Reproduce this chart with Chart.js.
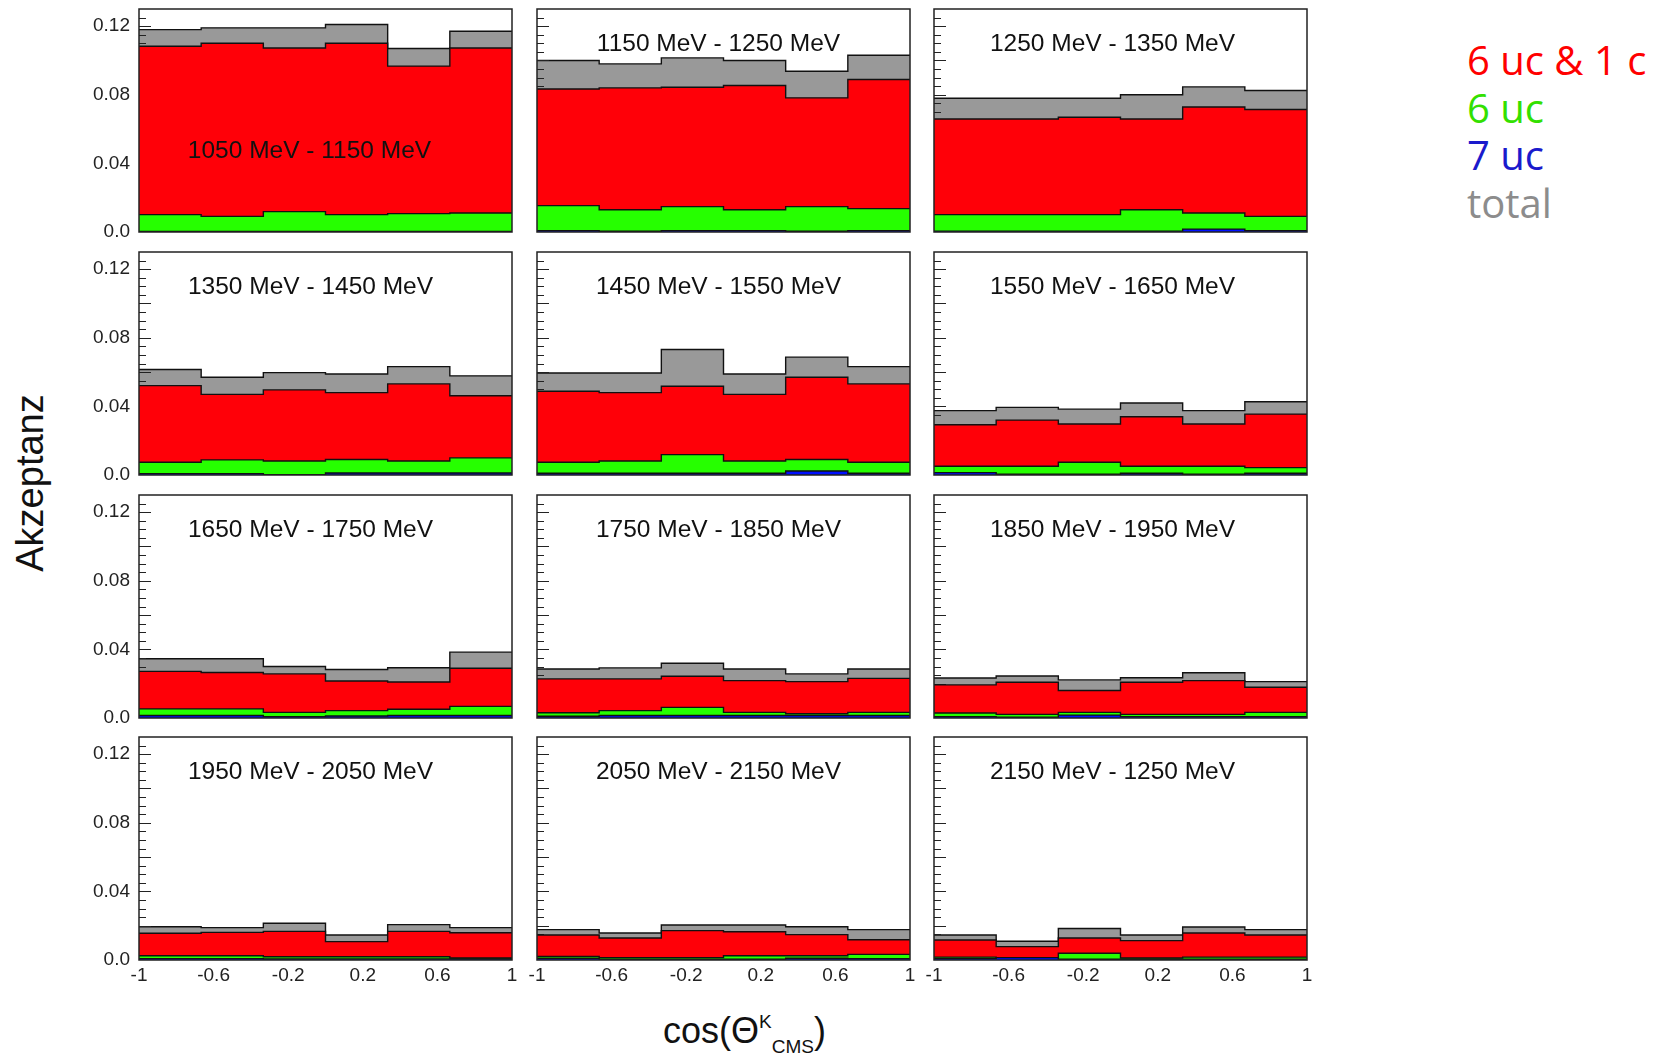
<!DOCTYPE html>
<html>
<head>
<meta charset="utf-8">
<script src="https://cdn.jsdelivr.net/npm/chart.js@4.4.1/dist/chart.umd.min.js"></script>
<style>
  body { margin: 0; background: #fff; width: 1655px; height: 1056px; position: relative; overflow: hidden;
         font-family: "Liberation Sans", Arial, sans-serif; }
  canvas.panel { position: absolute; }
  #legend { position: absolute; left: 1467px; top: 36px; font-family: "Open Sans", sans-serif; font-size: 40px; line-height: 47.7px; }
  #ytitle { position: absolute; left: 30px; top: 483px; transform: translate(-50%, -50%) rotate(-90deg);
            font-size: 38px; color: #111; white-space: nowrap; }
  #xtitle { position: absolute; left: 663px; top: 1010px; font-size: 36px; color: #111; white-space: nowrap; }
  #xtitle sup { font-size: 19px; vertical-align: 15px; }
  #xtitle sub { font-size: 19px; vertical-align: -10px; }
</style>
</head>
<body>
<div id="legend"></div>
<div id="ytitle">Akzeptanz</div>
<div id="xtitle">cos(Θ<sup>K</sup><sub>CMS</sub>)</div>
<script>
// histogram binning in cos(theta) and axis ticks
const binEdges = [-1, -2/3, -1/3, 0, 1/3, 2/3, 1];
const xTickValues = [-1, -0.6, -0.2, 0.2, 0.6, 1];
const yTickValues = [0, 0.04, 0.08, 0.12];
const yTickLabels = ['0.0', '0.04', '0.08', '0.12'];

const panelTitles = [
    '1050 MeV - 1150 MeV', '1150 MeV - 1250 MeV', '1250 MeV - 1350 MeV',
    '1350 MeV - 1450 MeV', '1450 MeV - 1550 MeV', '1550 MeV - 1650 MeV',
    '1650 MeV - 1750 MeV', '1750 MeV - 1850 MeV', '1850 MeV - 1950 MeV',
    '1950 MeV - 2050 MeV', '2050 MeV - 2150 MeV', '2150 MeV - 1250 MeV'
];

const seriesNames = ['6 uc & 1 c', '6 uc', '7 uc', 'total'];
const legendColors = ['#ff0000', '#33e000', '#1a1acc', '#8c8c8c'];

// one row per energy bin, six cos(theta) bins each
const totalValues = [
    [0.118, 0.119, 0.119, 0.121, 0.107, 0.117],
    [0.100, 0.098, 0.1015, 0.100, 0.0937, 0.103],
    [0.078, 0.078, 0.078, 0.080, 0.0846, 0.0825],
    [0.0615, 0.057, 0.0597, 0.0589, 0.0632, 0.0578],
    [0.0595, 0.0595, 0.0732, 0.0589, 0.0687, 0.0632],
    [0.0375, 0.0394, 0.0384, 0.042, 0.0375, 0.0427],
    [0.0345, 0.0345, 0.030, 0.0283, 0.0293, 0.0384],
    [0.0286, 0.0292, 0.0319, 0.0286, 0.0257, 0.0286],
    [0.0233, 0.0245, 0.0222, 0.0235, 0.0264, 0.0212],
    [0.0194, 0.0189, 0.0214, 0.0146, 0.0206, 0.0189],
    [0.0177, 0.0157, 0.0204, 0.0204, 0.0194, 0.0177],
    [0.0146, 0.0109, 0.0184, 0.0146, 0.0192, 0.0177]
];
const ucAnd1cValues = [
    [0.1083, 0.110, 0.1073, 0.110, 0.0967, 0.1073],
    [0.0834, 0.084, 0.0844, 0.0854, 0.0782, 0.0889],
    [0.0659, 0.0659, 0.0669, 0.0659, 0.0729, 0.0714],
    [0.0521, 0.047, 0.0496, 0.048, 0.0531, 0.0462],
    [0.0488, 0.048, 0.0517, 0.047, 0.057, 0.0531],
    [0.0293, 0.032, 0.0297, 0.034, 0.0297, 0.0355],
    [0.0272, 0.0265, 0.0257, 0.0216, 0.021, 0.029],
    [0.0228, 0.0228, 0.0243, 0.0218, 0.0212, 0.0231],
    [0.0193, 0.0208, 0.016, 0.0208, 0.0218, 0.0179],
    [0.0156, 0.0161, 0.0167, 0.0107, 0.0167, 0.0159],
    [0.0146, 0.0128, 0.0171, 0.0165, 0.0148, 0.0118],
    [0.0117, 0.0078, 0.0128, 0.0113, 0.0157, 0.0146]
];
const uc6Values = [
    [0.0101, 0.0091, 0.0119, 0.0101, 0.0107, 0.0111],
    [0.0154, 0.013, 0.0148, 0.013, 0.0148, 0.0136],
    [0.0101, 0.0101, 0.0101, 0.013, 0.0111, 0.0091],
    [0.0074, 0.0088, 0.0082, 0.009, 0.0082, 0.010],
    [0.0074, 0.0082, 0.0119, 0.0082, 0.009, 0.0074],
    [0.0051, 0.0051, 0.0074, 0.0051, 0.0051, 0.0043],
    [0.0053, 0.0053, 0.0033, 0.0043, 0.0051, 0.0068],
    [0.0031, 0.0043, 0.0062, 0.0033, 0.0025, 0.0033],
    [0.0029, 0.0021, 0.0033, 0.0021, 0.0021, 0.0033],
    [0.0025, 0.0025, 0.0019, 0.0019, 0.0019, 0.0012],
    [0.0021, 0.0014, 0.0014, 0.0025, 0.0025, 0.0033],
    [0.0017, 0.0014, 0.0039, 0.0012, 0.0017, 0.0017]
];
const uc7Values = [
    [0.0003, 0.0003, 0.0003, 0.0003, 0.0003, 0.0003],
    [0.0008, 0.0004, 0.0008, 0.0008, 0.0004, 0.0008],
    [0.0005, 0.0005, 0.0005, 0.0005, 0.0017, 0.0008],
    [0.0008, 0.0008, 0.0002, 0.0012, 0.0012, 0.0012],
    [0.001, 0.001, 0.001, 0.001, 0.0023, 0.001],
    [0.0014, 0.0004, 0.0004, 0.001, 0.0004, 0.001],
    [0.0015, 0.0015, 0.0008, 0.0012, 0.0015, 0.0015],
    [0.001, 0.0015, 0.0015, 0.0015, 0.0015, 0.0015],
    [0.0008, 0.0004, 0.0017, 0.0008, 0.0008, 0.0008],
    [0.0008, 0.0008, 0.0006, 0.0006, 0.0006, 0.0006],
    [0.001, 0.0004, 0.0004, 0.0004, 0.001, 0.0008],
    [0.0008, 0.0014, 0.0004, 0.0004, 0.0004, 0.0004]
];

// page layout of the 4x3 grid (plot area of each pad)
const padLeft = [139, 537, 934];
const padTop = [9, 252, 495, 737];
const padW = 373, padH = 223;
const marginL = 60, marginR = 20, marginT = 30, marginB = 40;
const titleShift = [-15, -5, -8];
const tickFont = { family: '"Liberation Sans", Arial, sans-serif', size: 19 };

// legend
document.getElementById('legend').innerHTML = seriesNames
    .map((n, i) => `<div style="color:${legendColors[i]}">${n.replace('&', '&amp;')}</div>`).join('');

// turn bin contents into step points
function histPoints(values) {
    const pts = values.map((v, i) => ({ x: binEdges[i], y: v }));
    pts.push({ x: binEdges[binEdges.length - 1], y: values[values.length - 1] });
    return pts;
}

function histDataset(values, color, order) {
    return {
        data: histPoints(values),
        stepped: 'before',
        fill: 'origin',
        backgroundColor: color,
        borderColor: '#111',
        borderWidth: 1.4,
        pointRadius: 0,
        order: order
    };
}

// frame, inner minor ticks and the energy label of each pad
const padDecor = {
    id: 'padDecor',
    afterDatasetDraw(chart, args) {
        if (args.index !== 0) return;
        // ticks sit over the total histogram but under the others
        const y = chart.scales.y, ctx = chart.ctx, left = chart.chartArea.left;
        ctx.save();
        ctx.strokeStyle = '#222';
        ctx.lineWidth = 1;
        for (let k = 1; k < 26; k++) {
            const py = Math.round(y.getPixelForValue(k * 0.005)) + 0.5;
            const len = k % 4 === 0 ? 12 : 7;
            ctx.beginPath();
            ctx.moveTo(left, py);
            ctx.lineTo(left + len, py);
            ctx.stroke();
        }
        ctx.restore();
    },
    afterDraw(chart, args, opts) {
        const a = chart.chartArea, ctx = chart.ctx;
        ctx.save();
        ctx.strokeStyle = '#222';
        ctx.lineWidth = 1.5;
        ctx.strokeRect(a.left, a.top, a.right - a.left, a.bottom - a.top);
        ctx.font = '24.5px "Liberation Sans", Arial, sans-serif';
        ctx.fillStyle = '#111';
        ctx.textAlign = 'center';
        ctx.textBaseline = 'middle';
        ctx.fillText(opts.title, a.left + (a.right - a.left) / 2 + opts.dx, a.top + opts.dy);
        ctx.restore();
    }
};

function makePad(i) {
    const row = Math.floor(i / 3), col = i % 3;
    const canvas = document.createElement('canvas');
    canvas.className = 'panel';
    canvas.width = padW + marginL + marginR;
    canvas.height = padH + marginT + marginB;
    canvas.style.left = (padLeft[col] - marginL) + 'px';
    canvas.style.top = (padTop[row] - marginT) + 'px';
    document.body.appendChild(canvas);

    new Chart(canvas, {
        type: 'line',
        data: {
            datasets: [
                histDataset(totalValues[i], '#999999', 4),
                histDataset(ucAnd1cValues[i], '#ff0008', 3),
                histDataset(uc6Values[i], '#26ff00', 2),
                histDataset(uc7Values[i], '#0010ff', 1)
            ]
        },
        options: {
            responsive: false,
            animation: false,
            devicePixelRatio: 1,
            layout: { padding: { left: 0, right: marginR, top: marginT, bottom: 0 } },
            plugins: {
                legend: { display: false },
                tooltip: { enabled: false },
                padDecor: {
                    title: panelTitles[i],
                    dx: i === 0 ? -16 : titleShift[col],
                    dy: i === 0 ? 142 : 35
                }
            },
            scales: {
                x: {
                    type: 'linear', min: -1, max: 1,
                    grid: { display: false, drawTicks: false }, border: { display: false },
                    afterBuildTicks: s => { s.ticks = xTickValues.map(v => ({ value: v })); },
                    afterFit: s => { s.height = marginB; },
                    ticks: { display: row === 3, padding: 4, maxRotation: 0, autoSkip: false,
                             font: tickFont, color: '#222', callback: v => String(v) }
                },
                y: {
                    type: 'linear', min: 0, max: 0.13,
                    grid: { display: false, drawTicks: false }, border: { display: false },
                    afterBuildTicks: s => { s.ticks = yTickValues.map(v => ({ value: v })); },
                    afterFit: s => { s.width = marginL; },
                    ticks: { display: col === 0, padding: 9, font: tickFont, color: '#222',
                             callback: (v, idx) => yTickLabels[idx] }
                }
            }
        },
        plugins: [padDecor]
    });
}

for (let i = 0; i < panelTitles.length; i++) makePad(i);
</script>
</body>
</html>
